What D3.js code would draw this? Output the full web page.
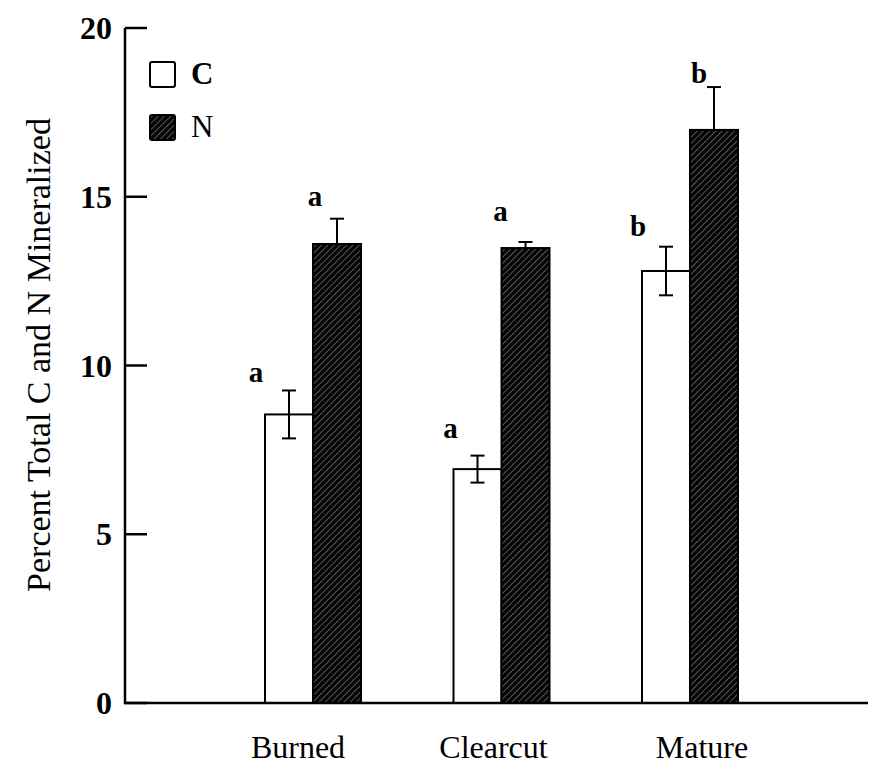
<!DOCTYPE html>
<html>
<head>
<meta charset="utf-8">
<script src="https://cdn.jsdelivr.net/npm/d3@7"></script>
<style>
  html, body { margin: 0; padding: 0; background: #fff; }
  svg { display: block; font-family: "Liberation Serif", "Times New Roman", serif; }
</style>
</head>
<body>
<svg id="chart" width="871" height="773"></svg>
<script>
// Percent of total C and N mineralized, by stand treatment
const categories = ["Burned", "Clearcut", "Mature"];
const series = ["C", "N"];
const meanC = [8.55, 6.93, 12.8];
const meanN = [13.6, 13.48, 16.98];
const errC = [0.71, 0.4, 0.72];
const errN = [0.75, 0.18, 1.27];
const letterC = ["a", "a", "b"];
const letterN = ["a", "a", "b"];
const yTicks = [0, 5, 10, 15, 20];
const yTitle = "Percent Total C and N Mineralized";

const svg = d3.select("#chart");

// diagonal hatch used for the N bars
const defs = svg.append("defs");
const step = 4.4;
const pat = defs.append("pattern")
  .attr("id", "hatch")
  .attr("patternUnits", "userSpaceOnUse")
  .attr("width", step).attr("height", step)
  .attr("patternTransform", "rotate(45)");
pat.append("rect").attr("width", step).attr("height", step).attr("fill", "#050505");
pat.append("line").attr("x1", 0).attr("y1", 0).attr("x2", 0).attr("y2", step)
  .attr("stroke", "#b8b8b8").attr("stroke-width", 0.9);

const y = d3.scaleLinear().domain([0, 20]).range([703, 28]);
const xGroup = d3.scalePoint().domain(categories).range([313, 690]);
const xSeries = d3.scaleBand().domain(series).range([-48, 48]);

const axisX0 = 125, axisX1 = 868;

// rows: one per bar
const rows = [];
categories.forEach((c, i) => {
  rows.push({ cat: c, s: "C", v: meanC[i], e: errC[i], lab: letterC[i], i });
  rows.push({ cat: c, s: "N", v: meanN[i], e: errN[i], lab: letterN[i], i });
});
const barX = d => xGroup(d.cat) + xSeries(d.s);
const bw = xSeries.bandwidth();

// C bars (open)
svg.append("g").selectAll("rect")
  .data(rows.filter(d => d.s === "C"))
  .join("rect")
  .attr("x", barX).attr("y", d => y(d.v))
  .attr("width", bw).attr("height", d => y(0) - y(d.v))
  .attr("fill", "#fff").attr("stroke", "#000").attr("stroke-width", 2);

// error bars
const eb = svg.append("g").attr("stroke", "#000").attr("stroke-width", 2);
rows.forEach(d => {
  const cx = barX(d) + bw / 2;
  eb.append("line").attr("x1", cx).attr("x2", cx)
    .attr("y1", y(d.v - d.e)).attr("y2", y(d.v + d.e));
  [d.v + d.e, d.v - d.e].forEach(t => {
    eb.append("line").attr("x1", cx - 7).attr("x2", cx + 7)
      .attr("y1", y(t)).attr("y2", y(t));
  });
});

// N bars (hatched)
svg.append("g").selectAll("rect")
  .data(rows.filter(d => d.s === "N"))
  .join("rect")
  .attr("x", barX).attr("y", d => y(d.v))
  .attr("width", bw).attr("height", d => y(0) - y(d.v))
  .attr("fill", "url(#hatch)").attr("stroke", "#000").attr("stroke-width", 2);

// significance letters, nudged off the whiskers
const letterDx = { "Burned C": -9, "Burned N": 2, "Clearcut C": -3, "Clearcut N": -1, "Mature C": -4, "Mature N": 9 };
const letterGap = { "Burned C": 8, "Burned N": 13, "Clearcut C": 18, "Clearcut N": 21, "Mature C": 11, "Mature N": 4 };
svg.append("g").selectAll("text")
  .data(rows)
  .join("text")
  .attr("x", d => barX(d) + letterDx[d.cat + " " + d.s])
  .attr("y", d => y(d.v + d.e) - letterGap[d.cat + " " + d.s])
  .attr("text-anchor", "middle")
  .attr("font-size", 29).attr("font-weight", "bold")
  .text(d => d.lab);

// axes
const axisG = svg.append("g").attr("stroke", "#000").attr("stroke-width", 2.5).attr("fill", "none");
axisG.append("path").attr("d", `M${axisX0},${y(20)}V${y(0)}H${axisX1}`);
axisG.selectAll("line.tick")
  .data(yTicks)
  .join("line")
  .attr("x1", axisX0).attr("x2", axisX0 + 22)
  .attr("y1", d => y(d)).attr("y2", d => y(d));

svg.append("g").selectAll("text")
  .data(yTicks)
  .join("text")
  .attr("x", 112).attr("y", d => y(d))
  .attr("dy", "0.35em")
  .attr("text-anchor", "end")
  .attr("font-size", 32).attr("font-weight", "bold")
  .text(d => d);

const catDx = { Burned: -15, Clearcut: -8, Mature: 12 };
svg.append("g").selectAll("text")
  .data(categories)
  .join("text")
  .attr("x", d => xGroup(d) + catDx[d])
  .attr("y", 758)
  .attr("text-anchor", "middle")
  .attr("font-size", 32)
  .text(d => d);

svg.append("text")
  .attr("transform", "translate(50,355) rotate(-90)")
  .attr("text-anchor", "middle")
  .attr("font-size", 34)
  .text(yTitle);

// legend
const legend = svg.append("g");
series.forEach((s, k) => {
  const ly = 62 + k * 53;
  legend.append("rect")
    .attr("x", 150).attr("y", ly).attr("width", 25).attr("height", 25).attr("rx", 2)
    .attr("fill", s === "C" ? "#fff" : "url(#hatch)")
    .attr("stroke", "#000").attr("stroke-width", 2);
  legend.append("text")
    .attr("x", 191).attr("y", ly + 22)
    .attr("font-size", 31)
    .attr("font-weight", s === "C" ? "bold" : "normal")
    .text(s);
});
</script>
</body>
</html>
